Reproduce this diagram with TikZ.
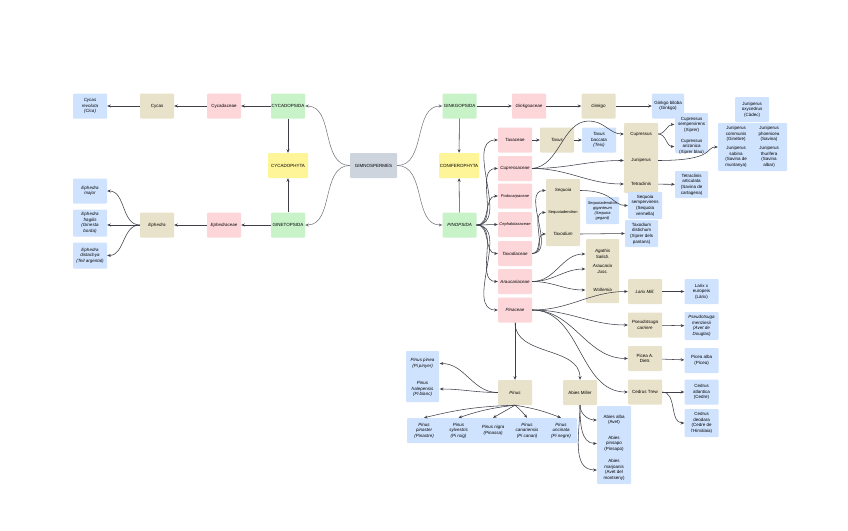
\documentclass[tikz,border=0pt]{standalone}
\usepackage{fontspec}
\setmainfont{Liberation Sans}
\usetikzlibrary{arrows.meta}
\definecolor{cgreen}{RGB}{200,243,200}
\definecolor{cpink}{RGB}{253,214,217}
\definecolor{ctan}{RGB}{233,226,202}
\definecolor{cblue}{RGB}{208,227,254}
\definecolor{cyellow}{RGB}{254,244,152}
\definecolor{cgray}{RGB}{206,212,222}
\definecolor{cline}{RGB}{62,64,74}
\definecolor{clight}{RGB}{110,113,124}
\newcommand{\fs}{\fontsize{4.5}{5.6}\selectfont}
\newcommand{\fss}{\fontsize{4}{5}\selectfont}
\tikzset{
 bx/.style={rectangle, rounded corners=1pt, minimum width=34pt, minimum height=25pt, inner sep=0.4pt, align=center, font=\fs},
 gr/.style={bx, fill=cgreen},
 pk/.style={bx, fill=cpink},
 tn/.style={bx, fill=ctan},
 bl/.style={bx, fill=cblue},
 ye/.style={bx, fill=cyellow, minimum width=40pt},
 gy/.style={bx, fill=cgray, minimum width=47pt},
 tx/.style={bx},
 it/.style={font=\fs\itshape},
 ar/.style={draw=cline, line width=0.55pt, -{Stealth[length=3.6pt,width=3pt]}},
 arl/.style={draw=clight, line width=0.5pt, -{Stealth[length=3.6pt,width=3pt]}},
}
\begin{document}
\begin{tikzpicture}[x=1pt,y=1pt]
\fill[white] (0,0) rectangle (848,-530);
\useasboundingbox (0,0) rectangle (848,-530);

% ---- left (cycads / gnetales)
\node[bl,it] (crev) at (90,-106) {Cycas\\revoluta\\(Cica)};
\node[tn] (cycas) at (157,-106) {Cycas};
\node[pk] (cycad) at (224,-106) {Cycadaceae};
\node[gr] (cycop) at (288,-106) {CYCADOPSIDA};
\node[ye] (cycph) at (288,-165.5) {CYCADOPHYTA};
\node[gr] (ginet) at (288,-225) {GINETOPSIDA};
\node[pk,it] (ephac) at (224,-225) {Ephedraceae};
\node[tn,it] (ephed) at (157,-225) {Ephedra};
\node[bl,it] (emaj) at (90,-191) {Ephedra\\major};
\node[bl,it,minimum height=27pt] (efra) at (90,-223) {Ephedra\\fragilis\\(Ginesta\\borda)};
\node[bl,it,minimum height=26pt] (edis) at (90,-255.5) {Ephedra\\distachya\\(Teil argental)};

% ---- centre
\node[gy] (gimno) at (373.5,-165.5) {GIMNOSPERMES};
\node[gr] (ginkp) at (459.5,-106) {GINKGOPSIDA};
\node[ye] (conif) at (459,-165.5) {CONIFEROPHYTA};
\node[gr,it] (pinop) at (459.5,-225) {PINOPSIDA};

% ---- ginkgo
\node[pk,it] (ginac) at (529,-106) {Ginkgoaceae};
\node[tn,it] (ginkgo) at (598.5,-106) {Ginkgo};
\node[bl,minimum width=32pt] (gbil) at (668,-106) {Ginkgo biloba\\(Ginkgo)};

% ---- families
\node[pk] (taxac) at (515,-140) {Taxaceae};
\node[pk,it] (cupac) at (515,-168.5) {Cupressaceae};
\node[pk,font=\fss\itshape] (podoc) at (515,-196) {Podocarpaceae};
\node[pk,font=\fss\itshape] (cepha) at (515,-224.5) {Cephalotaxaceae};
\node[pk,it] (taxod) at (515,-253.5) {Taxodiaceae};
\node[pk,it] (arauc) at (515,-281.5) {Araucariaceae};
\node[pk,it] (pinac) at (515,-310) {Pinaceae};

% ---- taxus
\node[tn,it] (taxus) at (557,-140) {Taxus};
\node[bl,it] (tbac) at (599,-140) {Taxus\\baccata\\(Teix)};

% ---- cupressaceae genera
\node[tn,minimum height=70pt] (cjtblk) at (641,-158) {};
\node[tx] (cupre) at (641,-134) {Cupressus};
\node[tx] (junip) at (641,-160.5) {Juniperus};
\node[tx] (tetra) at (641,-184) {Tetraclinis};

\node[bl,minimum width=33pt,minimum height=40pt] (cspblk) at (691.5,-133) {};
\node[tx,minimum height=0pt] (csem) at (691.5,-124.5) {Cupressus\\sempervirens\\(Xiprer)};
\node[tx,minimum height=0pt] (cari) at (691.5,-146.5) {Cupressus\\arizonica\\(Xiprer blau)};

\node[bl] (joxy) at (752,-109.5) {Juniperus\\oxycedrus\\(Càdec)};
\node[bl,minimum width=69pt,minimum height=48pt] (junblk) at (752.5,-147) {};
\node[tx,minimum height=0pt] (jcom) at (736,-134) {Juniperus\\communis\\(Ginebre)};
\node[tx,minimum height=0pt] (jpho) at (769,-134) {Juniperus\\phoenicea\\(Savina)};
\node[tx,minimum height=0pt] (jsab) at (736,-157) {Juniperus\\sabina\\(Savina de\\muntanya)};
\node[tx,minimum height=0pt] (jthu) at (769,-157) {Juniperus\\thurifera\\(Savina\\albar)};

\node[bl,minimum width=33pt,minimum height=27pt] (tart) at (691.5,-184.5) {Tetraclinis\\articulata\\(Savina de\\cartagena)};

% ---- taxodiaceae genera
\node[tn,minimum height=67pt] (seqblk) at (563,-212.5) {};
\node[tx,it] (sequo) at (563,-190.5) {Sequoia};
\node[tx,font=\fss] (seqd) at (563,-212.5) {Sequoiadendron};
\node[tx,it] (taxdm) at (563,-234) {Taxodium};

\node[bl,font=\fss\itshape,minimum width=33pt,minimum height=27pt] (sgig) at (602.5,-210.5) {Sequoiadendron\\giganteum\\(Sequoia\\gegant)};
\node[bl,minimum height=27pt] (ssem) at (645,-205.5) {Sequoia\\sempervirens\\(Sequoia\\vermella)};
\node[bl,minimum width=33pt,minimum height=27pt] (tdis) at (641.5,-233.5) {Taxodium\\distichum\\(Xiprer dels\\pantans)};

% ---- araucariaceae genera
\node[tn,minimum width=33pt,minimum height=64pt] (agblk) at (602.5,-271) {};
\node[tx,it,minimum height=0pt] (agath) at (602.5,-254) {Agathis\\Salisb.};
\node[tx,it,minimum height=0pt] (arauj) at (602.5,-269) {Araucaria\\Juss.};
\node[tx,it,minimum height=0pt] (wolle) at (602.5,-290) {Wollemia};

% ---- pinaceae genera
\node[tn,it] (larix) at (645,-291.5) {Larix Mill.};
\node[bl] (lareu) at (701.5,-291.5) {Larix x\\europeis\\(Làrix)};
\node[tn,it] (pseud) at (645,-325) {Pseudotsuga\\carriere};
\node[bl,it,minimum height=28pt] (pmen) at (701.5,-326) {Pseudotsuga\\menziesii\\(Avet de\\Douglas)};
\node[tn] (picea) at (645,-358.5) {Picea A.\\Dietr.};
\node[bl] (palb) at (701.5,-360.5) {Picea alba\\(Pícea)};
\node[tn] (cedr) at (645,-392) {Cedrus Trew};
\node[bl] (catl) at (701.5,-392) {Cedrus\\atlantica\\(Cedre)};
\node[bl,minimum height=28pt] (cdeo) at (701.5,-423) {Cedrus\\deodara\\(Cedre de\\l'Himàlaia)};

\node[tn,it] (pinus) at (515,-392.5) {Pinus};
\node[tn] (abies) at (580,-392.5) {Abies Miller};

\node[bl,minimum width=33pt,minimum height=51pt] (ppblk) at (422.5,-376.5) {};
\node[tx,it,minimum height=0pt] (ppin) at (422.5,-363.5) {Pinus pinea\\(Pi pinyer)};
\node[tx,it,minimum height=0pt] (phal) at (422.5,-389) {Pinus\\halepensis\\(Pi blanc)};

\node[bl,minimum width=170pt,minimum height=25pt] (prow) at (492,-430.5) {};
\node[tx,it] (pin1) at (424,-430.5) {Pinus\\pinaster\\(Pinastre)};
\node[tx,it] (pin2) at (458.5,-430.5) {Pinus\\sylvestris\\(Pi roig)};
\node[tx,it] (pin3) at (493,-430.5) {Pinus nigra\\(Pinassa)};
\node[tx,it] (pin4) at (527,-430.5) {Pinus\\canariensis\\(Pi canari)};
\node[tx,it] (pin5) at (561,-430.5) {Pinus\\uncinata\\(Pi negre)};

\node[bl,minimum width=34pt,minimum height=78pt] (abblk) at (614,-445) {};
\node[tx,minimum height=0pt] (aalb) at (614,-420) {Abies alba\\(Avet)};
\node[tx,minimum height=0pt] (apin) at (614,-443.5) {Abies\\pinsapo\\(Pinsapo)};
\node[tx,minimum height=0pt] (amar) at (614,-470) {Abies\\marjoanis\\(Avet del\\montseny)};

% ================= connectors
\draw[ar] (cycop) -- (cycad);
\draw[ar] (cycad) -- (cycas);
\draw[ar] (cycas) -- (crev);
\draw[ar] (cycop) -- (cycph);
\draw[ar] (ginet) -- (cycph);
\draw[ar] (ginet) -- (ephac);
\draw[ar] (ephac) -- (ephed);
\draw[ar] (ephed.west) to[out=180,in=0] (emaj.east);
\draw[ar] (ephed.west) -- (efra.east |- ephed.west);
\draw[ar] (ephed.west) to[out=180,in=0] (edis.east);

\draw[arl] (gimno.west) to[out=180,in=0] (cycop.east);
\draw[arl] (gimno.west) to[out=180,in=0] (ginet.east);
\draw[arl] (gimno.east) to[out=0,in=180] (ginkp.west);
\draw[arl] (gimno.east) to[out=0,in=180] (pinop.west);

\draw[ar] (ginkp) -- (conif);
\draw[ar] (pinop) -- (conif);
\draw[ar] (ginkp) -- (ginac);
\draw[ar] (ginac) -- (ginkgo);
\draw[ar] (ginkgo) -- (gbil);

\foreach \t in {taxac,cupac,podoc,cepha,taxod,arauc,pinac}
  \draw[ar] (pinop.east) to[out=0,in=180] (\t.west);

\draw[ar] (taxac) -- (taxus);
\draw[ar] (taxus) -- (tbac);

\draw[ar] (cupac.east) .. controls (560,-166) and (562,-121) .. (589,-121) .. controls (604,-121) and (610,-134) .. (cupre.west);
\draw[ar] (cupac.east) to[out=0,in=180] (junip.west);
\draw[ar] (cupac.east) to[out=0,in=180] (tetra.west);
\draw[ar] (cupre.east) to[out=0,in=180] (csem.west);
\draw[ar] (cupre.east) to[out=0,in=180] (cari.west);
\draw[ar] (junip.east) .. controls (716,-160.5) and (705,-147) .. (junblk.west);
\draw[ar] (tetra) -- (tart);

\draw[ar] (taxod.east) to[out=0,in=180] (sequo.west);
\draw[ar] (taxod.east) to[out=0,in=180] (seqd.west);
\draw[ar] (taxod.east) to[out=0,in=180] (taxdm.west);
\draw[ar] (sequo.east) .. controls (614,-190.5) and (612,-205.5) .. (ssem.west);
\draw[ar] (taxdm.east) -- (tdis.west);

\draw[ar] (arauc.east) to[out=0,in=180] (agath.west);
\draw[ar] (arauc.east) to[out=0,in=180] (arauj.west);
\draw[ar] (arauc.east) to[out=0,in=180] (wolle.west);

\draw[ar] (pinac.east) to[out=0,in=180] (larix.west);
\draw[ar] (pinac.east) to[out=0,in=180] (pseud.west);
\draw[ar] (pinac.east) to[out=0,in=180] (picea.west);
\draw[ar] (pinac.east) to[out=0,in=180] (cedr.west);
\draw[ar] (pinac) -- (pinus);
\draw[ar] (pinac.south) to[out=-90,in=90] (abies.north);

\draw[ar] (larix) -- (lareu);
\draw[ar] (pseud) -- (pmen);
\draw[ar] (picea) -- (palb);
\draw[ar] (cedr) -- (catl);
\draw[ar] (cedr.east) to[out=0,in=180] (cdeo.west);

\draw[ar] (pinus.west) to[out=180,in=0] (ppin.east);
\draw[ar] (pinus.west) to[out=180,in=0] (phal.east);
\draw[ar] (pinus.south) to[bend right=6] (pin1.north);
\draw[ar] (pinus.south) to[bend right=6] (pin2.north);
\draw[ar] (pinus.south) -- (pin3.north);
\draw[ar] (pinus.south) to[bend left=6] (pin4.north);
\draw[ar] (pinus.south) to[bend left=6] (pin5.north);

\draw[ar] (abies.south) to[out=-90,in=180] (aalb.west);
\draw[ar] (abies.south) to[out=-90,in=180] (apin.west);
\draw[ar] (abies.south) to[out=-90,in=180] (amar.west);
\end{tikzpicture}
\end{document}
